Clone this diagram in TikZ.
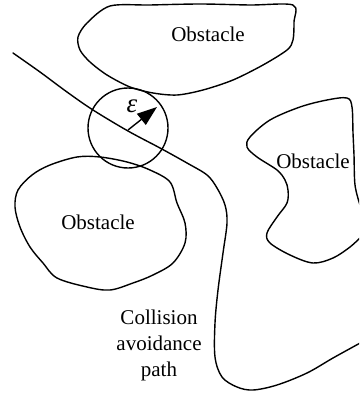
\documentclass[tikz,border=0pt]{standalone}
\usepackage{fontspec}
\setmainfont{Liberation Serif}
\usetikzlibrary{arrows.meta}
\begin{document}
\begin{tikzpicture}[x=1pt,y=-1pt,
  curve/.style={line width=1.4pt, line join=round, line cap=round},
  lbl/.style={font=\fontsize{21}{26}\selectfont, inner sep=0pt, align=center}]
\useasboundingbox (0,0) rectangle (359,396);
\begin{scope}
\clip (0,0) rectangle (359,396);
% top obstacle
\draw[curve] plot[smooth cycle, tension=0.5] coordinates {
 (110,6) (150,5) (200,4) (250,5) (293,5) (294,22) (293,40) (287,50) (263,65) (233,80)
 (203,90) (177,95) (153,93) (130,87) (107,75) (90,62) (80,50) (78,37) (87,23)};
% bottom-left obstacle
\draw[curve] plot[smooth cycle, tension=0.55] coordinates {
 (32,175) (50,165) (77,157) (100,157) (127,162) (150,170) (170,182) (177,203)
 (185,223) (185,243) (173,263) (153,275) (133,283) (110,290) (87,287) (57,278)
 (43,263) (30,247) (20,227) (15,207) (18,190)};
% right obstacle
\draw[curve] plot[smooth, tension=0.55] coordinates {
 (360,205) (355,185) (354,155) (353,133) (352,107) (347,98) (327,100) (300,107)
 (270,120) (250,137) (247,147) (257,157) (277,170) (285,180) (288,190) (287,203)
 (277,217) (267,233) (270,243) (290,255) (313,263) (333,258) (350,247) (362,236)};
% path
\draw[curve] plot[smooth, tension=0.55] coordinates {
 (13,53) (40,72) (67,92) (93,110) (128,131) (160,148) (187,163) (207,175) (217,188)
 (225,205) (227,223) (223,253) (218,290) (215,323) (215,357) (222,377) (237,387)
 (253,390) (277,385) (307,373) (333,358) (362,342)};
\end{scope}
% epsilon circle
\coordinate (c) at (128,130);
\coordinate (tip) at (157,107);
\draw[curve] (128,128) circle[radius=40];
\draw[line width=1.4pt, -{Triangle[length=20pt,width=14pt]}] (c) -- (tip);
\node[lbl, font=\fontsize{27}{30}\selectfont\itshape] (eps) at (132,106) {ε};
% labels
\node[lbl] (o1) at (208,34) {Obstacle};
\node[lbl] (o2) at (313,161) {Obstacle};
\node[lbl] (o3) at (98,222) {Obstacle};
\node[lbl] (cap) at (159,345) {Collision\\avoidance\\path};
\end{tikzpicture}
\end{document}
